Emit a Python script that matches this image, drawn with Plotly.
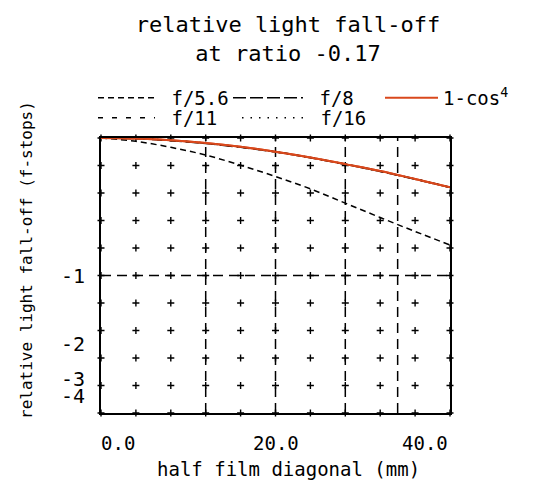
import plotly.graph_objects as go

# ---- data ----
x_mm = [0, 4, 8, 12, 16, 20, 24, 28, 32, 36, 40]
f56 = [1.000, 0.988, 0.966, 0.938, 0.901, 0.860, 0.815, 0.763, 0.711, 0.660, 0.611]
f8 = [1.000, 0.997, 0.990, 0.980, 0.966, 0.949, 0.928, 0.904, 0.878, 0.850, 0.820]
f11 = [1.000, 0.998, 0.991, 0.981, 0.967, 0.950, 0.929, 0.905, 0.879, 0.851, 0.821]
f16 = [1.000, 0.998, 0.992, 0.981, 0.967, 0.950, 0.929, 0.905, 0.879, 0.851, 0.821]
cos4 = [1.000, 0.998, 0.992, 0.982, 0.968, 0.950, 0.929, 0.905, 0.880, 0.851, 0.821]

y_tickvals = [0.5, 0.25, 0.125, 0.0625]
y_ticktext = ["-1", "-2", "-3", "-4"]
x_tickvals = [0, 20, 40]
x_ticktext = ["0.0", "20.0", "40.0"]
x_cross = [0, 4, 8, 12, 16, 20, 24, 28, 32, 36, 40]
y_cross = [0.0, 0.1, 0.2, 0.3, 0.4, 0.5, 0.6, 0.7, 0.8, 0.9, 1.0]
x_dashgrid = [12, 20, 28, 34]
y_dashgrid = [0.5]

FONT = "DejaVu Sans Mono"
ORANGE = "#d9481c"
SP = "\u00a0"

W, H = 546, 484
OFF = 7  # page offset of the figure inside the browser window
PL, PR, PT, PB = 100 - OFF, 449 - OFF, 137 - OFF, 412 - OFF   # plot area (figure px)


def px_x(p):
    return (p - OFF - PL) / (PR - PL)


def px_y(p):
    return (PB - (p - OFF)) / (PB - PT)


fig = go.Figure()

# grid crosses
cx = [a for a in x_cross for b in y_cross]
cy = [b for a in x_cross for b in y_cross]
fig.add_trace(go.Scatter(x=cx, y=cy, mode="markers", showlegend=False,
                         hoverinfo="skip", cliponaxis=False,
                         marker=dict(symbol="cross-thin", size=5, color="black",
                                     line=dict(color="black", width=1.4))))

fig.add_trace(go.Scatter(x=x_mm, y=f56, mode="lines", name=SP + "f/5.6", legend="legend",
                         line=dict(color="black", width=1.5, dash="6px,4px", shape="spline")))
fig.add_trace(go.Scatter(x=x_mm, y=f8, mode="lines", name=SP + "f/8", legend="legend2",
                         line=dict(color="black", width=1.5, dash="13px,4px", shape="spline")))
fig.add_trace(go.Scatter(x=x_mm, y=cos4, mode="lines", name="1-cos<sup>4</sup>", legend="legend3",
                         line=dict(color=ORANGE, width=2, shape="spline")))
fig.add_trace(go.Scatter(x=x_mm, y=f11, mode="lines", name=SP + "f/11", legend="legend4",
                         line=dict(color="black", width=1.5, dash="5px,9px", shape="spline")))
fig.add_trace(go.Scatter(x=x_mm, y=f16, mode="lines", name=SP + "f/16", legend="legend5",
                         line=dict(color="black", width=1.5, dash="1.5px,7px", shape="spline")))
# orange on top again (no legend)
fig.add_trace(go.Scatter(x=x_mm, y=cos4, mode="lines", showlegend=False, hoverinfo="skip",
                         line=dict(color=ORANGE, width=2, shape="spline")))

shapes = []
for xv in x_dashgrid:
    shapes.append(dict(type="line", xref="x", yref="y", x0=xv, x1=xv, y0=0, y1=1,
                       line=dict(color="black", width=1.5, dash="10px,6px"), layer="below"))
for yv in y_dashgrid:
    shapes.append(dict(type="line", xref="x", yref="y", x0=0, x1=40, y0=yv, y1=yv,
                       line=dict(color="black", width=1.5, dash="10px,6px"), layer="below"))

annotations = []
anchors = ["left", "center", "right"]
for xv, txt, anc in zip(x_tickvals, x_ticktext, anchors):
    annotations.append(dict(x=xv, y=px_y(442), xref="x", yref="paper", text=txt, showarrow=False,
                            xanchor=anc, yanchor="middle", xshift=-2 if anc == "left" else 0,
                            font=dict(family=FONT, size=19, color="black")))
annotations.append(dict(x=px_x(287), y=px_y(468), xref="paper", yref="paper",
                        text="half film diagonal (mm)", showarrow=False,
                        xanchor="center", yanchor="middle",
                        font=dict(family=FONT, size=19, color="black")))
annotations.append(dict(x=px_x(25), y=px_y(259), xref="paper", yref="paper",
                        text="relative light fall-off (f-stops)", showarrow=False,
                        textangle=-90, xanchor="center", yanchor="middle",
                        font=dict(family=FONT, size=16, color="black")))


def leg(xpage, ypage, iw):
    return dict(orientation="h", xref="container", yref="container",
                x=(xpage - OFF - 6) / W, y=1 - (ypage - OFF) / H,
                xanchor="left", yanchor="middle", itemwidth=iw,
                font=dict(family=FONT, size=19, color="black"), bgcolor="rgba(0,0,0,0)",
                itemclick=False, itemdoubleclick=False)


fig.update_layout(
    width=W, height=H,
    margin=dict(l=PL, r=W - PR, t=PT, b=H - PB, autoexpand=False),
    paper_bgcolor="white", plot_bgcolor="white",
    title=dict(text="relative light fall-off<br>at ratio -0.17", x=(287 - OFF) / W, xanchor="center",
               xref="container", y=1 - 24 / H, yanchor="top", yref="container",
               font=dict(family=FONT, size=22, color="black")),
    xaxis=dict(range=[0, 40], showgrid=False, zeroline=False, showline=True, mirror=True,
               linecolor="black", linewidth=2, showticklabels=False, ticks=""),
    yaxis=dict(range=[0, 1], showgrid=False, zeroline=False, showline=True, mirror=True,
               linecolor="black", linewidth=2, tickvals=y_tickvals, ticktext=y_ticktext,
               ticks="", ticklabelstandoff=10,
               tickfont=dict(family=FONT, size=20, color="black")),
    legend=leg(98, 97, 57),
    legend2=leg(233, 97, 70),
    legend3=leg(385, 97, 53),
    legend4=leg(98, 117, 57),
    legend5=leg(242, 117, 62),
    shapes=shapes,
    annotations=annotations,
    showlegend=True,
)

fig.write_html("out.html")
